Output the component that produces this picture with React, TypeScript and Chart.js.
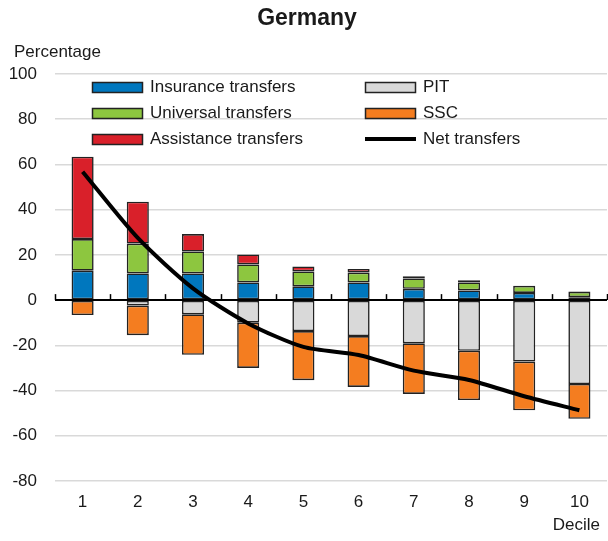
import React, { useEffect, useRef } from "react";
import { Chart, registerables } from "chart.js";

Chart.register(...registerables);

const deciles = ["1", "2", "3", "4", "5", "6", "7", "8", "9", "10"];
const insurance = [13, 11.8, 11.8, 7.8, 6.1, 7.8, 5.0, 4.3, 3.2, 1.3];
const universal = [14, 13.2, 9.7, 8.0, 6.6, 4.4, 4.6, 3.5, 3.1, 2.3];
const assistance = [36.4, 18.5, 7.7, 4.4, 2.2, 1.6, 0.9, 1.0, 0.1, 0.2];
const pit = [0, -2.4, -6.3, -10, -13.7, -15.9, -19.1, -22.4, -27.2, -37.1];
const ssc = [-6.6, -13.1, -17.9, -20, -21.7, -22.5, -22.4, -21.8, -21.5, -15.4];
const net = [56.8, 27.5, 5.2, -10.3, -20.7, -24.3, -31.2, -35.3, -42.5, -48.7];

const FONT = '"Liberation Sans", Arial, sans-serif';
const TXT = "#1a1a1a";
const COLORS = {
  insurance: "#0077BE",
  universal: "#8DC63F",
  assistance: "#D9202A",
  pit: "#D9D9D9",
  ssc: "#F47D20",
};

const overlay = {
  id: "overlay",
  beforeDatasetsDraw(chart: any) {
    const ctx = chart.ctx;
    const x = chart.scales.x;
    const y = chart.scales.y;
    const y0 = y.getPixelForValue(0);
    ctx.save();
    ctx.strokeStyle = "#000";
    ctx.lineWidth = 1.5;
    const n = deciles.length;
    const w = (x.right - x.left) / n;
    for (let i = 0; i <= n; i++) {
      const px = Math.round(x.left + i * w) + 0.5;
      ctx.beginPath();
      ctx.moveTo(px, y0 - 6);
      ctx.lineTo(px, y0);
      ctx.stroke();
    }
    ctx.lineWidth = 2;
    ctx.beginPath();
    ctx.moveTo(x.left, y0);
    ctx.lineTo(x.right, y0);
    ctx.stroke();
    ctx.restore();
  },
  afterDraw(chart: any) {
    const ctx = chart.ctx;
    ctx.save();
    ctx.fillStyle = TXT;
    ctx.font = `bold 23px ${FONT}`;
    ctx.textAlign = "center";
    ctx.textBaseline = "middle";
    ctx.fillText("Germany", 307, 19);

    ctx.font = `17px ${FONT}`;
    ctx.textAlign = "left";
    ctx.textBaseline = "alphabetic";
    ctx.fillText("Percentage", 14, 57);

    ctx.textAlign = "right";
    ctx.textBaseline = "middle";
    ctx.fillText("Decile", 600, 525);

    const items = [
      { label: "Insurance transfers", color: COLORS.insurance, x: 92, y: 87, line: false },
      { label: "Universal transfers", color: COLORS.universal, x: 92, y: 113, line: false },
      { label: "Assistance transfers", color: COLORS.assistance, x: 92, y: 139, line: false },
      { label: "PIT", color: COLORS.pit, x: 365, y: 87, line: false },
      { label: "SSC", color: COLORS.ssc, x: 365, y: 113, line: false },
      { label: "Net transfers", color: "#000", x: 365, y: 139, line: true },
    ];
    ctx.textAlign = "left";
    ctx.textBaseline = "middle";
    for (const it of items) {
      if (it.line) {
        ctx.strokeStyle = "#000";
        ctx.lineWidth = 4;
        ctx.beginPath();
        ctx.moveTo(it.x, it.y);
        ctx.lineTo(it.x + 51, it.y);
        ctx.stroke();
      } else {
        ctx.fillStyle = it.color;
        ctx.fillRect(it.x, it.y - 5, 51, 11);
        ctx.strokeStyle = "#222";
        ctx.lineWidth = 1.5;
        ctx.strokeRect(it.x + 0.5, it.y - 4.5, 50, 10);
      }
      ctx.fillStyle = TXT;
      ctx.fillText(it.label, it.x + 58, it.y);
    }
    ctx.restore();
  },
};

export default function App() {
  const ref = useRef<HTMLCanvasElement | null>(null);
  useEffect(() => {
    if (!ref.current) return;
    const barCommon = {
      type: "bar" as const,
      borderColor: "#222",
      borderWidth: 1.6,
      borderSkipped: false,
      barPercentage: 0.4,
      categoryPercentage: 1,
      stack: "bars",
      order: 1,
    };
    const chart = new Chart(ref.current, {
      type: "bar",
      data: {
        labels: deciles,
        datasets: [
          { ...barCommon, label: "Insurance transfers", data: insurance, backgroundColor: COLORS.insurance },
          { ...barCommon, label: "Universal transfers", data: universal, backgroundColor: COLORS.universal },
          { ...barCommon, label: "Assistance transfers", data: assistance, backgroundColor: COLORS.assistance },
          { ...barCommon, label: "PIT", data: pit, backgroundColor: COLORS.pit },
          { ...barCommon, label: "SSC", data: ssc, backgroundColor: COLORS.ssc },
          {
            type: "line" as const,
            label: "Net transfers",
            data: net,
            borderColor: "#000",
            borderWidth: 4,
            pointRadius: 0,
            tension: 0.25,
            stack: "net",
            order: 0,
            fill: false,
          } as any,
        ] as any,
      },
      options: {
        responsive: false,
        animation: false,
        devicePixelRatio: 1,
        layout: { padding: { top: 74, left: 0, right: 1, bottom: 0 } },
        plugins: {
          legend: { display: false },
          title: { display: false },
          tooltip: { enabled: false },
        },
        scales: {
          x: {
            stacked: true,
            grid: { display: false, drawTicks: false },
            border: { display: false },
            ticks: { color: TXT, font: { family: FONT, size: 17 }, padding: 11 },
            afterFit(scale: any) {
              scale.height = 60;
            },
          },
          y: {
            stacked: true,
            min: -80,
            max: 100,
            ticks: { stepSize: 20, color: TXT, font: { family: FONT, size: 17 }, padding: 18 },
            grid: {
              drawTicks: false,
              color: (c: any) => (c.tick && c.tick.value === 0 ? "rgba(0,0,0,0)" : "#D9D9D9"),
              lineWidth: 1.5,
            },
            border: { display: false },
            afterFit(scale: any) {
              scale.width = 55;
            },
          },
        },
      },
      plugins: [overlay],
    } as any);
    return () => chart.destroy();
  }, []);
  return (
    <div style={{ position: "absolute", left: 0, top: 0, width: 608, height: 541, background: "#fff" }}>
      <canvas ref={ref} width={608} height={541} style={{ width: 608, height: 541 }} />
    </div>
  );
}
